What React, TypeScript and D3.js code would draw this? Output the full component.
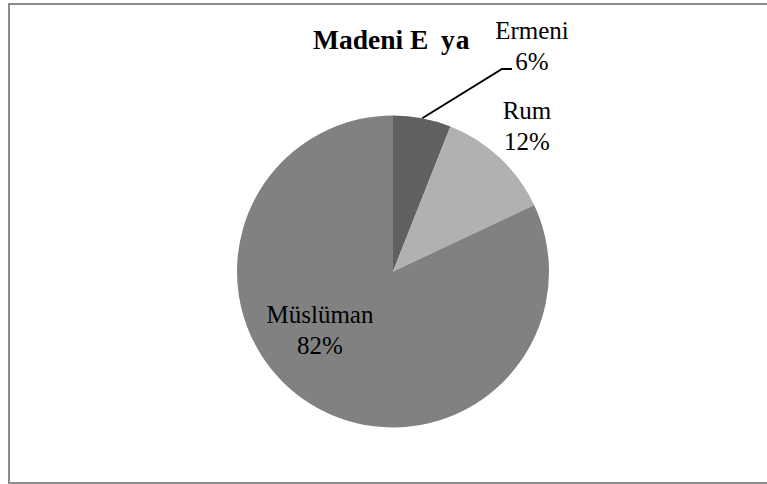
import React from "react";
import * as d3 from "d3";

const titleParts = ["Madeni E", "ya"];
const categories = ["Ermeni", "Rum", "Müslüman"];
const values = [6, 12, 82];
const colors = ["#616161", "#b1b1b1", "#818181"];
// label anchor offsets relative to pie center (layout)
const labelOffsets: [number, number][] = [
  [139, -233],
  [134, -153],
  [-73, 51],
];

const W = 767;
const H = 484;
const cx = 393;
const cy = 271.5;
const R = 156;

export default function App() {
  const total = d3.sum(values);
  const pie = d3
    .pie<number>()
    .sort(null)
    .value((d) => d)(values);
  const arc = d3.arc<d3.PieArcDatum<number>>().innerRadius(0).outerRadius(R);

  const e = pie[0];
  const mid = (e.startAngle + e.endAngle) / 2;
  const p0: [number, number] = [cx + R * Math.sin(mid), cy - R * Math.cos(mid)];
  const p1: [number, number] = [502, 69];
  const p2: [number, number] = [512, 69];

  return (
    <svg
      width={W}
      height={H}
      style={{ position: "absolute", left: 0, top: 0, background: "#fff" }}
      fontFamily="'Liberation Serif', 'Times New Roman', serif"
    >
      <rect x={9} y={4} width={W + 10} height={H - 5} fill="#fff" stroke="#8c8c8c" strokeWidth={2} />
      <g transform={`translate(${cx},${cy})`}>
        {pie.map((d, i) => (
          <path key={i} d={arc(d) || ""} fill={colors[i]} />
        ))}
      </g>
      <polyline
        points={[p0, p1, p2].map((p) => p.join(",")).join(" ")}
        fill="none"
        stroke="#000"
        strokeWidth={2}
      />
      <text y={49} fontSize={27.5} fontWeight="bold" fill="#000">
        <tspan x={313}>{titleParts[0]}</tspan>
        <tspan x={441} letterSpacing={1}>{titleParts[1]}</tspan>
      </text>
      {pie.map((d, i) => {
        const [dx, dy] = labelOffsets[i];
        const pct = Math.round((values[i] / total) * 100) + "%";
        return (
          <text key={i} x={cx + dx} y={cy + dy} fontSize={25} textAnchor="middle" fill="#000">
            <tspan x={cx + dx} dy={0}>{categories[i]}</tspan>
            <tspan x={cx + dx} dy={31.5}>{pct}</tspan>
          </text>
        );
      })}
    </svg>
  );
}
